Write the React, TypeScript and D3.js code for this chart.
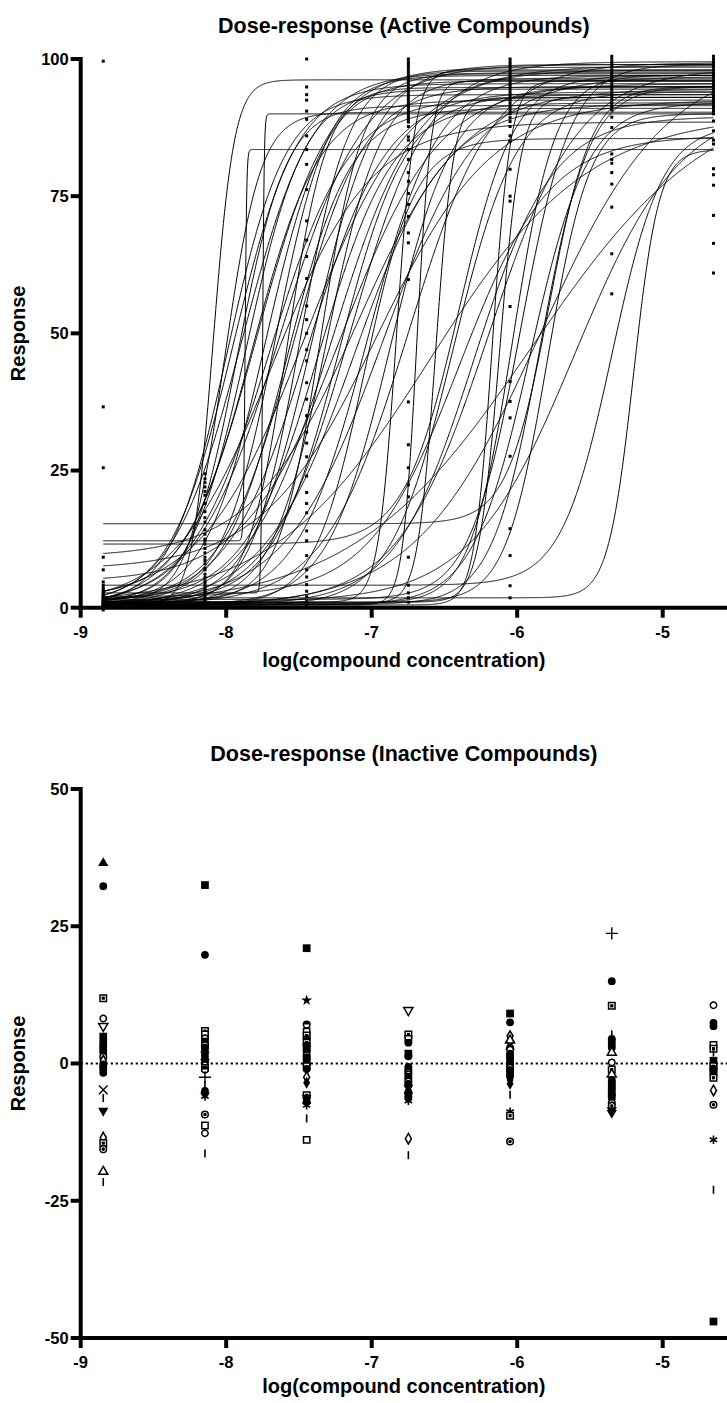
import React from "react";
import * as d3 from "d3";

const W = 727;
const H = 1403;

// ---------- shared axis data ----------
const xTicks = [-9, -8, -7, -6, -5];
const activeYTicks = [0, 25, 50, 75, 100];
const inactiveYTicks = [-50, -25, 0, 25, 50];
const concentrations = [-8.845, -8.146, -7.447, -6.748, -6.049, -5.35, -4.651];

// ---------- active compounds: fitted 4PL curve parameters (one entry per compound) ----------
const curveBottom = [0.5, 1.0, 0.3, 0.8, 1.2, 0.4, 12.2, 0.6, 2.0, 0.2, 2.7, 0.9, 0.5, 1.5, 0.3, 0.7, 1.1, 0.4, 0.8, 0.5, 1.3, 0.6, 0.2, 1.0, 4.7, 0.4, 9.2, 0.7, 6.9, 0.5, 1.0, 0.5, 0.8, 11.6, 0.3, 2.0, 0.5, 1.0, 0.8, 1.5, 0.5, 0.6, 1.0, 15.3, 4.1, 1.8, 0.0, 0.0, 1.0, 0.5, 0.3, 1.0, 0.5, 0.8, 0.4, 0.6, 0.9, 1.2, 0.5, 0.7];
const curveTop = [96.2, 90.3, 93.5, 95.5, 91.5, 97.5, 83.5, 94.5, 92.5, 98.5, 90.0, 96.0, 93.0, 97.0, 99.0, 91.0, 95.0, 97.8, 94.0, 99.0, 92.0, 96.5, 98.0, 93.5, 95.5, 99.5, 94.5, 97.0, 92.5, 95.0, 98.0, 96.0, 93.0, 97.0, 94.0, 86.0, 96.0, 93.0, 97.0, 99.0, 92.0, 95.0, 90.0, 95.0, 88.0, 83.5, 95.0, 100.0, 92.0, 90.0, 88.5, 98.8, 91.8, 96.8, 85.5, 99.3, 94.8, 97.3, 89.5, 98.2];
const curveLogEC50 = [-8.09, -8.01, -7.99, -7.95, -7.92, -7.89, -7.87, -7.86, -7.82, -7.79, -7.75, -7.73, -7.7, -7.66, -7.63, -7.58, -7.54, -7.49, -7.44, -7.4, -7.36, -7.31, -7.27, -7.22, -7.2, -7.15, -7.1, -7.03, -6.96, -6.87, -6.83, -6.69, -6.56, -6.4, -6.44, -6.4, -6.17, -6.12, -6.03, -5.98, -5.91, -5.84, -5.79, -5.78, -5.35, -5.2, -5.9, -5.84, -5.6, -6.6, -7.68, -7.45, -7.12, -6.92, -7.05, -6.75, -7.58, -7.35, -6.3, -6.2];
const curveHill = [6, 3.5, 2.2, 2.0, 2.6, 1.8, 80, 2.2, 1.9, 1.7, 80, 2.1, 1.6, 2.4, 1.5, 2.0, 1.8, 2.6, 1.6, 2.0, 1.7, 2.3, 1.5, 1.9, 1.3, 1.6, 1.2, 1.8, 1.1, 2.0, 7, 9, 7, 2.3, 2.0, 1.4, 7, 6, 3, 2.5, 2.2, 2.6, 3, 3, 2.5, 5, 0.7, 1.0, 1.2, 0.8, 1.3, 1.2, 1.4, 1.3, 2.5, 1.5, 3.2, 3.0, 1.6, 1.4];

// ---------- active compounds: observed responses at each concentration ----------
const activeCol0 = [99.6, 36.6, 25.5, 9.2, 6.9, 4.7, 4.1, 3.6, 3.2, 2.9, 2.7, 2.5, 2.2, 2.0, 1.8, 1.7, 1.5, 1.4, 1.2, 1.1, 1.0, 0.9, 0.8, 0.7, 0.6, 0.5, 0.4, 0.3, 0.2, 0.1, 0.0, -0.2, -0.4];
const activeCol1 = [24.4, 23.5, 22.8, 22.0, 21.2, 20.5, 19.0, 17.5, 16.4, 15.6, 14.2, 13.4, 12.5, 12.2, 11.6, 10.8, 10.0, 9.2, 8.6, 8.0, 7.2, 6.9, 6.1, 5.5, 4.9, 4.5, 4.0, 3.5, 3.1, 2.7, 2.3, 2.0, 1.7, 1.5, 1.2, 1.0, 0.8, 0.6, 0.4, 0.3, 0.1];
const activeCol2 = [100, 94.9, 93.5, 92.5, 90.5, 89, 86, 83.5, 80.8, 76.2, 70.5, 67, 64, 60, 55, 52.5, 50, 47, 45, 41, 38, 35, 32, 30, 27.5, 24, 21, 19, 17.3, 14, 12.2, 9.5, 6.9, 5.6, 4.2, 3, 2, 1.2, 0.5];
const activeCol3 = [100, 99.5, 99, 98.5, 98, 97.5, 97, 96.5, 96, 95.5, 95, 94.5, 94, 93.5, 93, 92.5, 92, 91.5, 91, 90.5, 90, 89.5, 89, 88.5, 87.7, 85.8, 85.2, 83.5, 81.7, 79.3, 77.7, 75.5, 73.5, 71.3, 68.3, 66.5, 59.8, 37.5, 29.7, 25.5, 22.4, 20.2, 9.2, 4.1, 2.7, 1.8, 1.0];
const activeCol4 = [100, 99.5, 99, 98.5, 98, 97.5, 97, 96.5, 96, 95.5, 95, 94.5, 94, 93.5, 93, 92.5, 92, 91.5, 91, 90.5, 90, 89.3, 88.6, 87.7, 86, 85, 79.9, 75, 74.1, 54.9, 41.2, 37.6, 34.6, 27.6, 14.4, 9.5, 4.0, 1.8];
const activeCol5 = [100.5, 100, 99.5, 99, 98.5, 98, 97.5, 97, 96.5, 96, 95.5, 95, 94.5, 94, 93.5, 93, 92.5, 92, 91.5, 91, 90.7, 89.4, 87.5, 82.7, 81.7, 81, 79.3, 77.2, 73, 64.5, 57.2];
const activeCol6 = [100.5, 100, 99.5, 99, 98.5, 98, 97.5, 97, 96.5, 96, 95.5, 95, 94.5, 94, 93.5, 93, 92.5, 92, 91.5, 91, 90.5, 90, 88.7, 86.9, 85.2, 84.5, 80, 78.9, 77, 71.5, 66.4, 61];

// ---------- inactive compounds: observed responses [value, symbol] ----------
const inactiveCol0: [number, string][] = [[36.5, "t"], [32.3, "c"], [11.9, "sd"], [8.2, "oc"], [6.8, "ov"], [4.9, "s"], [3.9, "c"], [3.4, "c"], [3.0, "c"], [2.5, "c"], [2.0, "c"], [1.2, "cd"], [0.5, "od"], [-0.2, "hc"], [-0.7, "c"], [-1.1, "c"], [-1.7, "c"], [-4.8, "x"], [-6.3, "b"], [-8.6, "v"], [-13.5, "od"], [-14.5, "sd"], [-15.6, "cd"], [-19.7, "ot"], [-21.6, "b"]];
const inactiveCol1: [number, string][] = [[32.5, "s"], [19.8, "c"], [5.9, "sd"], [5.3, "os"], [4.6, "oc"], [4.0, "s"], [3.5, "oc"], [3.3, "cd"], [2.9, "c"], [2.6, "c"], [2.0, "d"], [1.6, "c"], [1.4, "x"], [0.9, "a"], [0.6, "c"], [0.3, "c"], [-0.3, "oc"], [-0.8, "os"], [-1.1, "hc"], [-2.5, "p"], [-4.0, "b"], [-5.0, "c"], [-5.6, "st"], [-6.0, "a"], [-9.3, "cd"], [-11.3, "os"], [-12.7, "oc"], [-16.4, "b"]];
const inactiveCol2: [number, string][] = [[21.0, "s"], [11.5, "st"], [7.1, "hc"], [5.8, "os"], [5.1, "sd"], [4.5, "c"], [3.8, "sd"], [3.3, "c"], [3.0, "s"], [2.5, "c"], [2.2, "c"], [1.5, "cd"], [1.1, "c"], [0.8, "c"], [0.2, "s"], [-0.2, "c"], [-0.5, "os"], [-1.0, "c"], [-2.5, "od"], [-3.5, "d"], [-5.8, "sd"], [-6.3, "c"], [-6.5, "x"], [-7.0, "c"], [-7.6, "a"], [-10.0, "b"], [-13.9, "os"]];
const inactiveCol3: [number, string][] = [[9.7, "ov"], [5.3, "sd"], [4.5, "os"], [3.8, "c"], [1.8, "s"], [1.3, "c"], [-0.6, "c"], [-1.0, "c"], [-1.3, "c"], [-1.7, "cd"], [-2.0, "oc"], [-2.4, "c"], [-2.7, "c"], [-3.3, "cd"], [-3.7, "c"], [-4.0, "c"], [-4.7, "x"], [-5.2, "c"], [-5.5, "c"], [-6.0, "c"], [-6.3, "c"], [-6.8, "a"], [-13.7, "od"], [-16.7, "b"]];
const inactiveCol4: [number, string][] = [[9.1, "s"], [7.5, "c"], [5.0, "od"], [4.2, "ot"], [3.3, "x"], [2.9, "c"], [2.5, "oc"], [1.8, "c"], [1.4, "c"], [1.0, "c"], [0.4, "s"], [-0.2, "c"], [-0.8, "cd"], [-1.2, "c"], [-1.5, "c"], [-1.9, "c"], [-2.3, "c"], [-3.0, "d"], [-3.7, "d"], [-5.7, "b"], [-8.8, "a"], [-9.5, "sd"], [-14.2, "cd"]];
const inactiveCol5: [number, string][] = [[23.7, "p"], [15.0, "c"], [10.5, "sd"], [5.3, "b"], [4.5, "c"], [3.8, "s"], [2.9, "c"], [2.0, "ot"], [0.2, "oc"], [-1.1, "sd"], [-2.0, "ot"], [-3.0, "c"], [-3.4, "c"], [-3.8, "c"], [-4.2, "c"], [-4.5, "c"], [-5.3, "s"], [-6.0, "s"], [-7.2, "cd"], [-7.7, "cd"], [-8.5, "v"], [-9.0, "v"]];
const inactiveCol6: [number, string][] = [[10.6, "oc"], [7.4, "c"], [6.8, "c"], [3.4, "os"], [2.7, "sd"], [2.0, "b"], [0.5, "s"], [-0.5, "sd"], [-1.0, "s"], [-1.5, "s"], [-2.6, "sd"], [-4.9, "od"], [-7.5, "cd"], [-13.9, "a"], [-23.0, "b"], [-47.0, "s"]];

const activeCols = [activeCol0, activeCol1, activeCol2, activeCol3, activeCol4, activeCol5, activeCol6];
const inactiveCols = [inactiveCol0, inactiveCol1, inactiveCol2, inactiveCol3, inactiveCol4, inactiveCol5, inactiveCol6];

const FONT = "Arial, 'Liberation Sans', Helvetica, sans-serif";

// ---------- layout ----------
const plotLeft = 80.7;
const plotRight = 727;
const pxPerLog = 145.5;
const xScale = d3
  .scaleLinear()
  .domain([-9, -9 + (plotRight - plotLeft) / pxPerLog])
  .range([plotLeft, plotRight]);

const yActive = d3.scaleLinear().domain([0, 100]).range([607.7, 59]);
const yInactive = d3.scaleLinear().domain([-50, 50]).range([1338, 789]);

function fourPL(x: number, i: number) {
  const b = curveBottom[i], t = curveTop[i], ec = curveLogEC50[i], h = curveHill[i];
  return b + (t - b) / (1 + Math.pow(10, (ec - x) * h));
}

function Marker({ type, x, y }: { type: string; x: number; y: number }) {
  const sw = 1.5;
  const sym = (t: d3.SymbolType, size: number) => d3.symbol(t, size)() as string;
  const tr = `translate(${x},${y})`;
  switch (type) {
    case "c":
      return <path transform={tr} d={sym(d3.symbolCircle, 48)} fill="#000" />;
    case "oc":
      return <path transform={tr} d={sym(d3.symbolCircle, 32)} fill="#fff" stroke="#000" strokeWidth={sw} />;
    case "cd":
      return (
        <g transform={tr}>
          <path d={sym(d3.symbolCircle, 34)} fill="#fff" stroke="#000" strokeWidth={sw} />
          <path d={sym(d3.symbolCircle, 10)} fill="#000" />
        </g>
      );
    case "hc":
      return (
        <g transform={tr}>
          <path d={sym(d3.symbolCircle, 34)} fill="#fff" stroke="#000" strokeWidth={sw} />
          <path d={d3.arc()({ innerRadius: 0, outerRadius: 3.3, startAngle: -Math.PI / 2, endAngle: Math.PI / 2 }) as string} fill="#000" />
        </g>
      );
    case "s":
      return <path transform={tr} d={sym(d3.symbolSquare, 60)} fill="#000" />;
    case "os":
      return <path transform={tr} d={sym(d3.symbolSquare, 40)} fill="#fff" stroke="#000" strokeWidth={sw} />;
    case "sd":
      return (
        <g transform={tr}>
          <path d={sym(d3.symbolSquare, 42)} fill="#fff" stroke="#000" strokeWidth={sw} />
          <path d={sym(d3.symbolSquare, 10)} fill="#000" />
        </g>
      );
    case "t":
      return <path transform={tr} d={sym(d3.symbolTriangle, 46)} fill="#000" />;
    case "ot":
      return <path transform={tr} d={sym(d3.symbolTriangle, 36)} fill="#fff" stroke="#000" strokeWidth={sw} />;
    case "v":
      return <path transform={`${tr} rotate(180)`} d={sym(d3.symbolTriangle, 46)} fill="#000" />;
    case "ov":
      return <path transform={`${tr} rotate(180)`} d={sym(d3.symbolTriangle, 36)} fill="#fff" stroke="#000" strokeWidth={sw} />;
    case "d":
      return <path transform={tr} d={sym(d3.symbolDiamond, 42)} fill="#000" />;
    case "od":
      return <path transform={tr} d={sym(d3.symbolDiamond, 32)} fill="#fff" stroke="#000" strokeWidth={sw} />;
    case "p":
      return <path transform={tr} d={sym(d3.symbolPlus, 50)} fill="none" stroke="#000" strokeWidth={1.4} />;
    case "x":
      return <path transform={tr} d={sym(d3.symbolTimes, 50)} fill="none" stroke="#000" strokeWidth={1.4} />;
    case "a":
      return <path transform={tr} d={sym(d3.symbolAsterisk, 50)} fill="none" stroke="#000" strokeWidth={1.6} />;
    case "st":
      return <path transform={tr} d={sym(d3.symbolStar, 38)} fill="#000" />;
    case "b":
      return <line x1={x} x2={x} y1={y - 4} y2={y + 4} stroke="#000" strokeWidth={1.6} />;
    default:
      return <path transform={tr} d={sym(d3.symbolCircle, 48)} fill="#000" />;
  }
}

function Axes({ y, yTicks, yMin }: { y: d3.ScaleLinear<number, number>; yTicks: number[]; yMin: number }) {
  const y0 = y(yMin);
  const yTop = y(yTicks[yTicks.length - 1]);
  const tickLen = 10;
  const sw = 4;
  return (
    <g fontFamily={FONT} fontWeight="bold" fontSize={16.5}>
      <line x1={plotLeft} x2={plotLeft} y1={yTop - sw / 2} y2={y0 + sw / 2} stroke="#000" strokeWidth={sw} />
      <line x1={plotLeft - sw / 2} x2={plotRight} y1={y0} y2={y0} stroke="#000" strokeWidth={sw} />
      {yTicks.map((t) => (
        <g key={"y" + t}>
          <line x1={plotLeft - tickLen} x2={plotLeft} y1={y(t)} y2={y(t)} stroke="#000" strokeWidth={sw} />
          <text x={plotLeft - tickLen - 2} y={y(t)} dy="0.36em" textAnchor="end">
            {t}
          </text>
        </g>
      ))}
      {xTicks.map((t) => (
        <g key={"x" + t}>
          <line x1={xScale(t)} x2={xScale(t)} y1={y0} y2={y0 + tickLen} stroke="#000" strokeWidth={sw} />
          <text x={xScale(t)} y={y0 + tickLen + 20} textAnchor="middle">
            {t}
          </text>
        </g>
      ))}
    </g>
  );
}

export default function App() {
  const xs = d3.range(0, 1601).map((k) => concentrations[0] + ((concentrations[6] - concentrations[0]) * k) / 1600);
  const line = d3.line<number>().x((d) => xScale(d));
  const midX = (plotLeft + plotRight) / 2;

  return (
    <svg
      width={W}
      height={H}
      viewBox={`0 0 ${W} ${H}`}
      style={{ position: "absolute", left: 0, top: 0, background: "#fff", display: "block" }}
    >
      <rect x={0} y={0} width={W} height={H} fill="#fff" />
      {/* ===== Active panel ===== */}
      <text x={midX} y={33} textAnchor="middle" fontFamily={FONT} fontWeight="bold" fontSize={21.5}>
        Dose-response (Active Compounds)
      </text>
      <g>
        {curveTop.map((_, i) => (
          <path
            key={"c" + i}
            d={line.y((d) => yActive(fourPL(d, i)))(xs) as string}
            fill="none"
            stroke="#000"
            strokeWidth={1}
          />
        ))}
        {activeCols.map((col, ci) =>
          col.map((v, k) => (
            <rect
              key={`ap${ci}-${k}`}
              x={xScale(concentrations[ci]) - 1.5}
              y={yActive(v) - 1.5}
              width={3}
              height={3}
              fill="#000"
            />
          ))
        )}
      </g>
      <Axes y={yActive} yTicks={activeYTicks} yMin={0} />
      <text x={midX} y={667} textAnchor="middle" fontFamily={FONT} fontWeight="bold" fontSize={20}>
        log(compound concentration)
      </text>
      <text
        transform={`translate(25,${yActive(50)}) rotate(-90)`}
        textAnchor="middle"
        fontFamily={FONT}
        fontWeight="bold"
        fontSize={20}
      >
        Response
      </text>

      {/* ===== Inactive panel ===== */}
      <text x={midX} y={761} textAnchor="middle" fontFamily={FONT} fontWeight="bold" fontSize={21.5}>
        Dose-response (Inactive Compounds)
      </text>
      <line
        x1={plotLeft}
        x2={plotRight}
        y1={yInactive(0)}
        y2={yInactive(0)}
        stroke="#000"
        strokeWidth={2.2}
        strokeDasharray="2.2 2.8"
      />
      {inactiveCols.map((col, ci) =>
        col.map(([v, s], k) => <Marker key={`ip${ci}-${k}`} type={s} x={xScale(concentrations[ci])} y={yInactive(v)} />)
      )}
      <Axes y={yInactive} yTicks={inactiveYTicks} yMin={-50} />
      <text x={midX} y={1393} textAnchor="middle" fontFamily={FONT} fontWeight="bold" fontSize={20}>
        log(compound concentration)
      </text>
      <text
        transform={`translate(25,${yInactive(0)}) rotate(-90)`}
        textAnchor="middle"
        fontFamily={FONT}
        fontWeight="bold"
        fontSize={20}
      >
        Response
      </text>
    </svg>
  );
}
